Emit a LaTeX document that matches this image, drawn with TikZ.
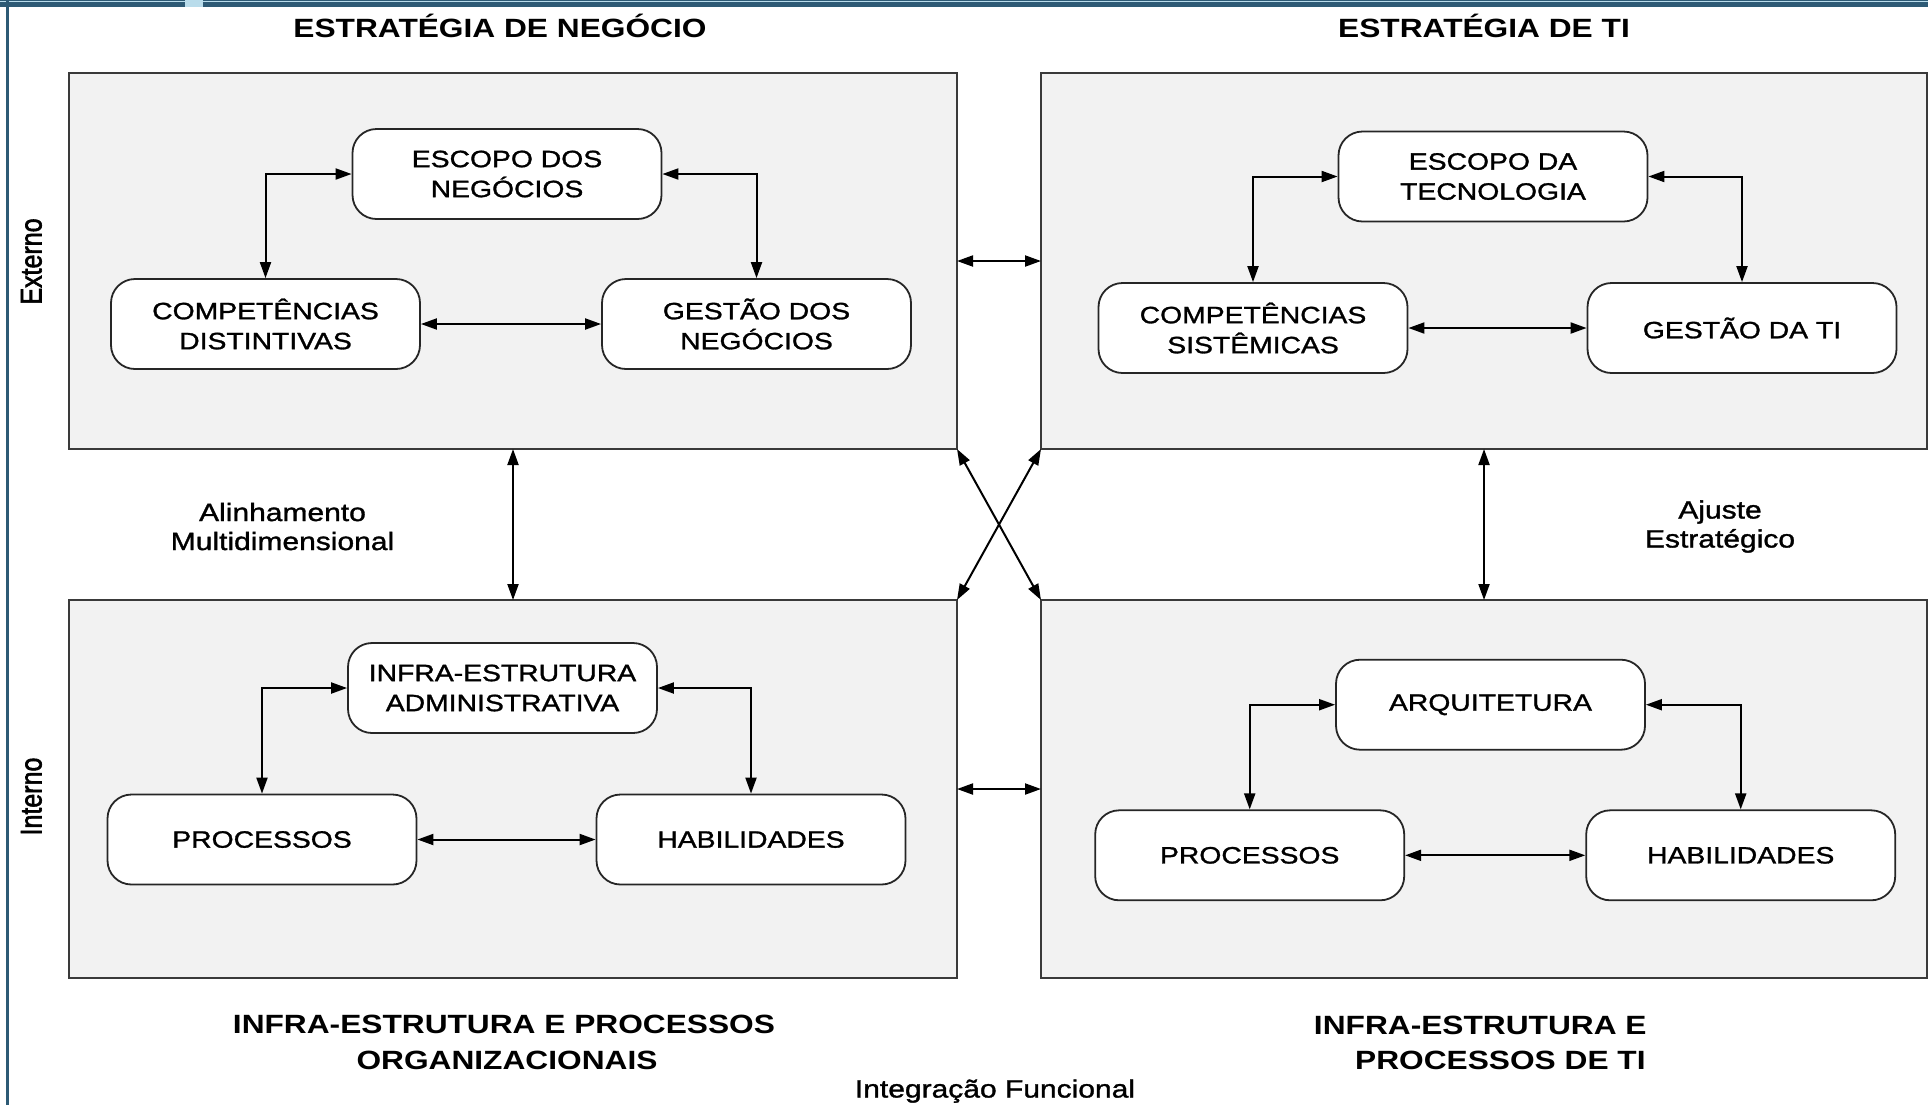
\documentclass[tikz,border=0pt]{standalone}
\usepackage{fontspec}
\usetikzlibrary{arrows.meta}
\newfontfamily\wfont[FakeStretch=1.2, FakeBold=1.3]{Liberation Sans}
\newfontfamily\tfont[FakeStretch=1.2]{Liberation Sans Bold}
\newfontfamily\nfont[FakeBold=2.2]{Liberation Sans}
\definecolor{frameblue}{HTML}{2D5A75}
\definecolor{framelight}{HTML}{B9DCEB}
\definecolor{panelgray}{HTML}{F2F2F2}
\definecolor{edgegray}{HTML}{3A3A3A}
\begin{document}
\begin{tikzpicture}[x=0.5pt,y=-0.5pt,
  panel/.style={draw=edgegray, line width=1.1pt, fill=panelgray, minimum width=444pt, minimum height=188pt, inner sep=0pt, outer sep=0pt},
  ibox/.style={draw=black!85, line width=0.9pt, fill=white, rounded corners=12pt, minimum width=154.5pt, minimum height=45pt, inner sep=0pt, align=center, font=\wfont\fontsize{11.8}{15}\selectfont},
  link/.style={line width=1pt, {Triangle[length=8pt,width=5.5pt]}-{Triangle[length=8pt,width=5.5pt]}},
  ttl/.style={font=\tfont\fontsize{13.2}{18}\selectfont, anchor=base, inner sep=0pt},
  lbl/.style={font=\wfont\fontsize{12.5}{15}\selectfont, anchor=base, inner sep=0pt},
  side/.style={font=\nfont\fontsize{12.5}{15}\selectfont, rotate=90, yscale=1.2, anchor=base, inner sep=0pt}
]
\useasboundingbox (0,0) rectangle (1930,1105);
% slide frame
\fill[frameblue] (0,0) rectangle (1928,6.7);
\fill[framelight] (0,0.5) rectangle (1928,1.6);
\fill[framelight] (185,0) rectangle (203,6.7);
\fill[frameblue] (5.5,0) rectangle (9,1105);

% panels
\node[panel] (TL) at (513,261) {};
\node[panel, minimum width=443pt] (TR) at (1484,261) {};
\node[panel, minimum height=189pt] (BL) at (513,789) {};
\node[panel, minimum width=443pt, minimum height=189pt] (BR) at (1484,789) {};

% top-left
\node[ibox] (e1) at (507,174) {ESCOPO DOS\\NEGÓCIOS};
\node[ibox] (c1) at (265.5,324) {COMPETÊNCIAS\\DISTINTIVAS};
\node[ibox] (g1) at (756.5,324) {GESTÃO DOS\\NEGÓCIOS};
% top-right
\node[ibox] (e2) at (1493,176.5) {ESCOPO DA\\TECNOLOGIA};
\node[ibox] (c2) at (1253,328) {COMPETÊNCIAS\\SISTÊMICAS};
\node[ibox] (g2) at (1742,328) {GESTÃO DA TI};
% bottom-left
\node[ibox] (i3) at (502.5,688) {INFRA-ESTRUTURA\\ADMINISTRATIVA};
\node[ibox] (p3) at (262,839.5) {PROCESSOS};
\node[ibox] (h3) at (751,839.5) {HABILIDADES};
% bottom-right
\node[ibox] (a4) at (1490.5,704.7) {ARQUITETURA};
\node[ibox] (p4) at (1249.7,855.3) {PROCESSOS};
\node[ibox] (h4) at (1740.7,855.3) {HABILIDADES};

% inner connectors
\draw[link] (e1.west) -| (c1.north);
\draw[link] (e1.east) -| (g1.north);
\draw[link] (c1.east) -- (g1.west);
\draw[link] (e2.west) -| (c2.north);
\draw[link] (e2.east) -| (g2.north);
\draw[link] (c2.east) -- (g2.west);
\draw[link] (i3.west) -| (p3.north);
\draw[link] (i3.east) -| (h3.north);
\draw[link] (p3.east) -- (h3.west);
\draw[link] (a4.west) -| (p4.north);
\draw[link] (a4.east) -| (h4.north);
\draw[link] (p4.east) -- (h4.west);

% panel connectors
\draw[link] (TL.east) -- (TR.west);
\draw[link] (BL.east) -- (BR.west);
\draw[link] (TL.south) -- (BL.north);
\draw[link] (TR.south) -- (BR.north);
\draw[link] (TL.south east) -- (BR.north west);
\draw[link] (TR.south west) -- (BL.north east);

% titles
\node[ttl] (t1) at (500,37) {ESTRATÉGIA DE NEGÓCIO};
\node[ttl] (t2) at (1484,37) {ESTRATÉGIA DE TI};
\node[ttl] (b1a) at (504,1033) {INFRA-ESTRUTURA E PROCESSOS};
\node[ttl] (b1b) at (507,1069) {ORGANIZACIONAIS};
\node[ttl, anchor=base east] (b2a) at (1647,1034) {INFRA-ESTRUTURA E};
\node[ttl, anchor=base east] (b2b) at (1646,1069) {PROCESSOS DE TI};

% labels
\node[lbl] (l1a) at (282.5,521) {Alinhamento};
\node[lbl] (l1b) at (282.5,550) {Multidimensional};
\node[lbl] (l2a) at (1720,518.5) {Ajuste};
\node[lbl] (l2b) at (1720,547.5) {Estratégico};
\node[lbl] (l3) at (995,1097.5) {Integração Funcional};
\node[side] (s1) at (41.5,261.5) {Externo};
\node[side] (s2) at (41.5,796.5) {Interno};
\end{tikzpicture}
\end{document}
